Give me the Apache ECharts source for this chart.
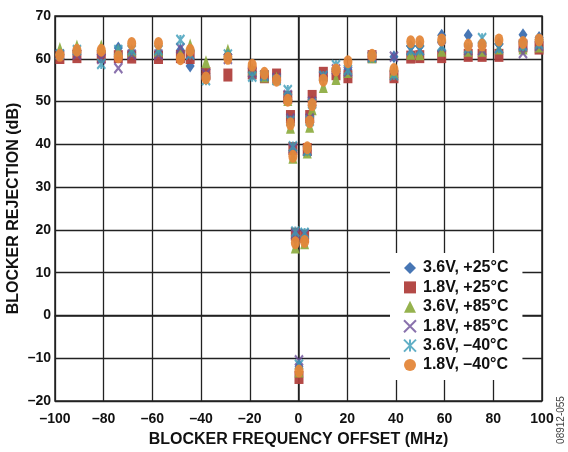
<!DOCTYPE html>
<html><head><meta charset="utf-8">
<script src="https://cdn.jsdelivr.net/npm/echarts@6/dist/echarts.min.js"></script>
<style>html,body{margin:0;padding:0;background:#fff}#c{width:568px;height:452px}</style>
</head><body><div id="c"></div>
<script>
var offsets = [-98, -91, -81, -74, -68.5, -57.5, -48.5, -44.5, -38, -29, -19, -14, -9, -4.4, -3.3, -2.3, -1.3, 0.2, 2.5, 3.6, 4.6, 5.6, 10.2, 15.4, 20.3, 30.2, 39.2, 46.1, 49.8, 58.8, 69.7, 75.4, 82.3, 92.2, 98.8];
var v36_p25 = [61, 62, 61, 62.5, 61.5, 61.5, 62, 58.3, 56.5, 61, 57, 56, 55.5, 51, 45.5, 38.5, 18, -12, 18, 38.5, 45.5, 50, 56, 57, 57.5, 60.5, 60.5, 63, 63, 65.5, 65.5, 63.5, 63.5, 65.6, 65];
var v18_p25 = [60.3, 60.5, 60.5, 60.5, 60.4, 60.3, 60.5, 60.3, 56.5, 56.2, 56.7, 55.8, 56.2, 51, 46.5, 39, 19, -14.5, 18.5, 38.8, 46.5, 51.2, 56.6, 56.5, 55.8, 60.5, 55.8, 60.4, 60.5, 60.5, 60.8, 60.8, 60.8, 63, 62.5];
var v36_p85 = [62.4, 63, 63, 62, 62, 62, 61.5, 63.2, 59.3, 62, 57.5, 56, 55.5, 50.5, 44, 37, 16, -13, 17, 38.2, 44.2, 48.3, 53.5, 55.4, 57, 60.5, 57, 61.3, 61.2, 62, 62, 62, 62.5, 62.5, 63];
var v18_p85 = [61, 61, 60, 57.8, 61, 61, 62.5, 61, 56.5, 60, 56.8, 56, 55.5, 51.5, 46, 39, 19, -10.5, 19, 38.5, 46, 50, 55.8, 57.5, 57, 60.5, 60.5, 62, 62, 62.8, 62, 62, 62.5, 61.3, 63];
var v36_m40 = [61, 62, 58.8, 62, 62, 62, 64.4, 61, 55, 61, 55.8, 56, 55, 52.7, 45.5, 39.5, 19.6, -11.5, 19.3, 38.5, 45.5, 49.5, 56, 58.5, 57.4, 60.3, 56.2, 62, 62, 63, 62.5, 64.8, 62.5, 63, 63.5];
var v18_m40 = [60.8, 62, 62, 60.5, 63.6, 63.6, 60, 62, 55.5, 60.1, 58.5, 56.6, 55, 50.3, 44.8, 37.2, 17, -13, 17.3, 39.2, 45.3, 49.3, 55, 57.4, 59.3, 60.8, 57.5, 64, 64, 64.4, 63.2, 63.2, 64.4, 63.8, 64.4];
var seriesNames = ['3.6V, +25°C', '1.8V, +25°C', '3.6V, +85°C', '1.8V, +85°C', '3.6V, \u201340°C', '1.8V, \u201340°C'];
var xTicks = [-100, -80, -60, -40, -20, 0, 20, 40, 60, 80, 100];
var yTicks = [-20, -10, 0, 10, 20, 30, 40, 50, 60, 70];

var allVals = [v36_p25, v18_p25, v36_p85, v18_p85, v36_m40, v18_m40];
var colors = ['#3d6fb0', '#b0403d', '#8fae45', '#6d4f99', '#3a9bb8', '#e4873a'];
var symbols = ['diamond', 'rect', 'triangle',
  'path://M0,0 L10,10 M10,0 L0,10',
  'path://M0,0 L10,10 M10,0 L0,10 M5,0 L5,10',
  'circle'];
var stroked = [false, false, false, true, true, false];
function pair(vals) { return offsets.map(function (x, i) { return [x, vals[i]]; }); }
function fmt(v) { return v < 0 ? '\u2013' + Math.abs(v) : String(v); }

var series = allVals.map(function (vals, k) {
  return {
    name: seriesNames[k], type: 'scatter', data: pair(vals),
    symbol: symbols[k], symbolSize: stroked[k] ? [8, 10] : [9, 13],
    itemStyle: stroked[k] ? { color: 'transparent', borderColor: colors[k], borderWidth: 2.2 } : { color: colors[k], opacity: 0.95 },
    z: 2 + k
  };
});

var FF = 'Liberation Sans, Arial, sans-serif';
var chart = echarts.init(document.getElementById('c'), null, { renderer: 'canvas' });
chart.setOption({
  animation: false,
  backgroundColor: '#fff',
  textStyle: { fontFamily: FF },
  grid: { left: 55, right: 26, top: 16, bottom: 51, show: true, borderColor: '#222', borderWidth: 1.5,
    containLabel: false, outerBoundsMode: 'none' },
  xAxis: {
    type: 'value', min: -100, max: 100, interval: 20,
    name: 'BLOCKER FREQUENCY OFFSET (MHz)', nameLocation: 'middle', nameGap: 31, nameMoveOverlap: false,
    nameTextStyle: { fontWeight: 'bold', fontSize: 16, color: '#111', fontFamily: FF },
    axisLine: { show: true, lineStyle: { color: '#222', width: 1.5 } },
    axisTick: { show: false },
    splitLine: { show: true, lineStyle: { color: '#222', width: 1.3 } },
    axisLabel: { fontWeight: 'bold', fontSize: 14, color: '#111', margin: 11, formatter: fmt, fontFamily: FF }
  },
  yAxis: {
    type: 'value', min: -20, max: 70, interval: 10,
    name: 'BLOCKER REJECTION (dB)', nameLocation: 'middle', nameGap: 33, nameMoveOverlap: false,
    nameTextStyle: { fontWeight: 'bold', fontSize: 16, color: '#111', fontFamily: FF },
    axisLine: { show: true, lineStyle: { color: '#222', width: 1.5 } },
    axisTick: { show: false },
    splitLine: { show: true, lineStyle: { color: '#222', width: 1.3 } },
    axisLabel: { fontWeight: 'bold', fontSize: 14, color: '#111', margin: 4, formatter: fmt, fontFamily: FF }
  },
  legend: {
    orient: 'vertical', left: 390, top: 253,
    backgroundColor: '#fff', padding: [7, 14, 7, 13],
    itemWidth: 12, itemHeight: 12, itemGap: 3.4,
    textStyle: { fontWeight: 'bold', fontSize: 16, lineHeight: 16, color: '#111', padding: [0, 0, 0, 2], fontFamily: FF },
    data: seriesNames
  },
  graphic: [{
    type: 'text', x: 561, y: 420, rotation: Math.PI / 2,
    style: { text: '08912-055', fontSize: 10, fill: '#444', align: 'center', verticalAlign: 'middle', fontFamily: FF }
  }],
  series: series
});
</script></body></html>
